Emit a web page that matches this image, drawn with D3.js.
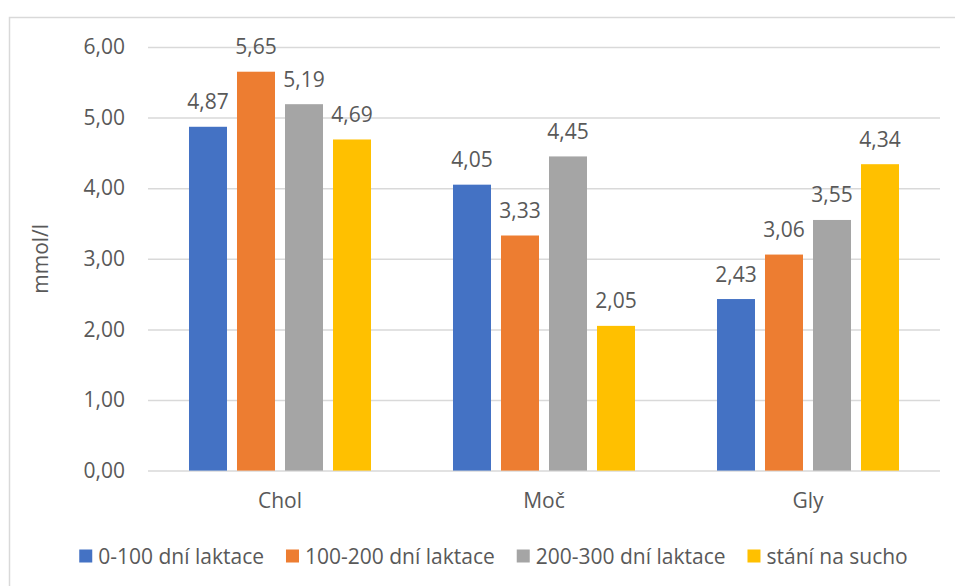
<!DOCTYPE html>
<html>
<head>
<meta charset="utf-8">
<script src="https://cdn.jsdelivr.net/npm/d3@7"></script>
<style>
  html, body { margin: 0; padding: 0; background: #fff; }
  svg { display: block; }
  text { font-family: "Open Sans", "DejaVu Sans", sans-serif; fill: #595959; }
</style>
</head>
<body>
<svg id="chart" width="955" height="586"></svg>
<script>
// Categories and series
const categories = ["Chol", "Moč", "Gly"];
const seriesNames = ["0-100 dní laktace", "100-200 dní laktace", "200-300 dní laktace", "stání na sucho"];
const seriesColors = ["#4472C4", "#ED7D31", "#A5A5A5", "#FFC000"];

// Values per series, in category order (Chol, Moč, Gly)
const s0_100 = [4.87, 4.05, 2.43];
const s100_200 = [5.65, 3.33, 3.06];
const s200_300 = [5.19, 4.45, 3.55];
const sSucho = [4.69, 2.05, 4.34];

const yTicks = [0, 1, 2, 3, 4, 5, 6];
const yTitle = "mmol/l";

const seriesValues = [s0_100, s100_200, s200_300, sSucho];
const fmt = v => v.toFixed(2).replace(".", ",");
const FS = 21;

const svg = d3.select("#chart");

// Outer chart frame
svg.append("rect")
  .attr("x", 9.5).attr("y", 17.5)
  .attr("width", 970).attr("height", 620)
  .attr("fill", "none").attr("stroke", "#d9d9d9").attr("stroke-width", 1.5);

const plot = { left: 148, right: 940, top: 47, bottom: 470.6 };

const x0 = d3.scaleBand().domain(categories).range([plot.left, plot.right]);
const x1 = d3.scaleBand().domain(seriesNames).range([0, x0.bandwidth()])
  .paddingInner(10 / 48).paddingOuter(0.854);
const y = d3.scaleLinear().domain([0, 6]).range([plot.bottom, plot.top]);

// Gridlines and y tick labels
const yAxis = d3.axisLeft(y).tickValues(yTicks).tickFormat(fmt)
  .tickSize(-(plot.right - plot.left)).tickPadding(23);
const gy = svg.append("g").attr("transform", `translate(${plot.left},0)`).call(yAxis);
gy.select(".domain").remove();
gy.selectAll(".tick line").attr("stroke", "#d9d9d9").attr("stroke-width", 1.5);
gy.selectAll(".tick text").attr("font-size", FS).attr("fill", "#595959")
  .style("font-family", "\"Open Sans\", sans-serif");

// Bars
const groups = svg.append("g").selectAll("g")
  .data(categories)
  .join("g")
  .attr("transform", d => `translate(${x0(d)},0)`);

groups.selectAll("rect")
  .data((c, ci) => seriesNames.map((s, si) => ({ s, si, v: seriesValues[si][ci] })))
  .join("rect")
  .attr("x", d => x1(d.s))
  .attr("y", d => y(d.v))
  .attr("width", x1.bandwidth())
  .attr("height", d => y(0) - y(d.v))
  .attr("fill", d => seriesColors[d.si]);

// Value labels
groups.selectAll("text.val")
  .data((c, ci) => seriesNames.map((s, si) => ({ s, si, v: seriesValues[si][ci] })))
  .join("text")
  .attr("class", "val")
  .attr("x", d => x1(d.s) + x1.bandwidth() / 2)
  .attr("y", d => y(d.v) - 17.5)
  .attr("text-anchor", "middle")
  .attr("font-size", FS)
  .text(d => fmt(d.v));

// Category labels
svg.append("g").selectAll("text")
  .data(categories)
  .join("text")
  .attr("x", d => x0(d) + x0.bandwidth() / 2)
  .attr("y", 508)
  .attr("text-anchor", "middle")
  .attr("font-size", FS)
  .text(d => d);

// Y axis title
svg.append("text")
  .attr("transform", `translate(48,${(plot.top + plot.bottom) / 2}) rotate(-90)`)
  .attr("text-anchor", "middle")
  .attr("font-size", FS)
  .text(yTitle);

// Legend, centered under the chart area
const legend = svg.append("g");
const items = legend.selectAll("g").data(seriesNames).join("g");
items.append("rect")
  .attr("width", 13).attr("height", 13)
  .attr("y", 549.5)
  .attr("fill", (d, i) => seriesColors[i]);
items.append("text")
  .attr("x", 19).attr("y", 563.5)
  .attr("font-size", FS)
  .text(d => d);
const widths = [];
items.each(function () {
  widths.push(d3.select(this).select("text").node().getComputedTextLength());
});
const total = widths.reduce((a, w) => a + 19 + w, 0) + 22 * (widths.length - 1);
let cx = 493.5 - total / 2;
items.attr("transform", (d, i) => {
  const t = `translate(${cx},0)`;
  cx += 19 + widths[i] + 22;
  return t;
});
</script>
</body>
</html>
